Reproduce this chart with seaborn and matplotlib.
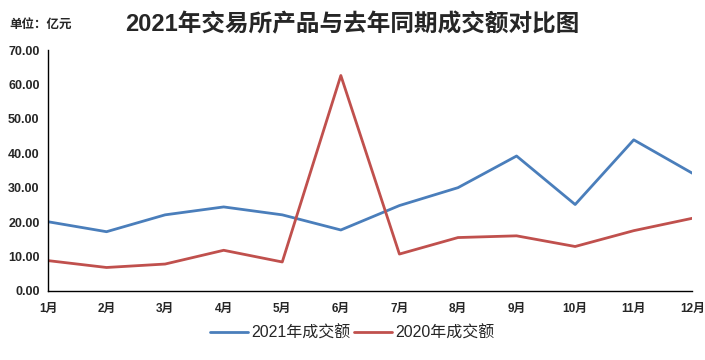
import pandas as pd
import matplotlib
matplotlib.use("Agg")
import matplotlib.pyplot as plt
import seaborn as sns

months = ["1月", "2月", "3月", "4月", "5月", "6月", "7月", "8月", "9月", "10月", "11月", "12月"]
vol_2021 = [20.1, 17.2, 22.1, 24.4, 22.1, 17.7, 24.8, 30.0, 39.2, 25.1, 43.9, 34.2]
vol_2020 = [8.8, 6.8, 7.8, 11.8, 8.4, 62.6, 10.7, 15.5, 16.0, 12.9, 17.5, 21.1]
series_names = ["2021年成交额", "2020年成交额"]
colors = ["#4A7EBB", "#C0504D"]

sns.set_style("white")
plt.rcParams["font.family"] = ["Liberation Sans", "Noto Sans CJK SC", "DejaVu Sans"]

df = pd.DataFrame({
    "month": months * 2,
    "x": list(range(len(months))) * 2,
    "value": vol_2021 + vol_2020,
    "series": [series_names[0]] * len(months) + [series_names[1]] * len(months),
})

fig = plt.figure(figsize=(7.05, 3.6), dpi=100)
ax = fig.add_axes([0.068, 0.192, 0.914, 0.669])

sns.lineplot(data=df, x="x", y="value", hue="series", palette=colors,
             linewidth=2.0, ax=ax, legend=True)

ax.set_xlim(0, len(months) - 1)
ax.set_ylim(0, 70)
ax.set_xticks(range(len(months)))
ax.set_xticklabels(months, fontsize=8.5, fontweight="bold")
ax.set_yticks(range(0, 71, 10))
ax.set_yticklabels([f"{v:.2f}" for v in range(0, 71, 10)], fontsize=9, fontweight="bold")
ax.set_xlabel("")
ax.set_ylabel("")
ax.tick_params(axis="both", length=0, pad=6)
ax.tick_params(axis="x", pad=9)

for side in ["top", "right"]:
    ax.spines[side].set_visible(False)
for side in ["left", "bottom"]:
    ax.spines[side].set_color("black")
    ax.spines[side].set_linewidth(1.0)

ax.legend(loc="center", bbox_to_anchor=(0.472, -0.175), ncol=2, frameon=False,
          fontsize=11.5, handlelength=2.4, columnspacing=0.2, handletextpad=0.2)

fig.text(0.5, 0.93, "2021年交易所产品与去年同期成交额对比图", ha="center", va="center",
         fontsize=17, fontweight="bold")
fig.text(0.014, 0.93, "单位：亿元", ha="left", va="center", fontsize=9, fontweight="bold")

fig.savefig("out.png", dpi=100)
